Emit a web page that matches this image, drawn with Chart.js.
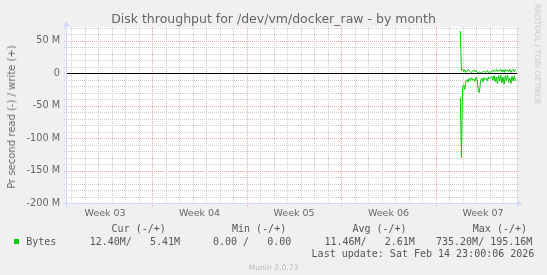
<!DOCTYPE html>
<html><head><meta charset="utf-8">
<script src="https://cdn.jsdelivr.net/npm/chart.js@4/dist/chart.umd.min.js"></script>
<style>
html,body{margin:0;padding:0;background:#F0F0F0;}
#wrap{position:relative;width:547px;height:275px;overflow:hidden;background:#F0F0F0;}
#canvasBg{position:absolute;left:67px;top:27px;width:450px;height:176px;background:#FFFFFF;z-index:0;}
canvas{position:absolute;left:0;top:0;z-index:1;}
.t{position:absolute;white-space:pre;line-height:1;color:#666;font-family:"DejaVu Sans",sans-serif;z-index:2;}
.m{position:absolute;white-space:pre;line-height:1;font-family:"DejaVu Sans Mono",monospace;font-size:10px;color:#555;z-index:2;}
.rot{position:absolute;width:0;height:0;z-index:2;}
.rot span{position:absolute;left:0;top:0;white-space:nowrap;line-height:1;font-family:"DejaVu Sans",sans-serif;}
</style></head><body>
<div id="wrap">
<div id="canvasBg"></div>
<canvas id="c" width="547" height="275"></canvas>
<div class="t" style="left:0;width:547px;text-align:center;top:13px;font-size:12.5px;">Disk throughput for /dev/vm/docker_raw - by month</div>
<div class="rot" style="left:12px;top:116.5px;"><span style="font-size:10px;color:#666;transform:translate(-50%,-50%) rotate(-90deg);">Pr second read (-) / write (+)</span></div>
<div class="rot" style="left:537px;top:53.5px;"><span style="font-size:7.8px;color:#C8C8C8;transform:translate(-50%,-50%) rotate(90deg);">RRDTOOL / TOBI OETIKER</span></div>
<div class="m" style="left:111.6px;top:223.5px;">Cur (-/+)</div>
<div class="m" style="left:232px;top:223.5px;">Min (-/+)</div>
<div class="m" style="left:352.4px;top:223.5px;">Avg (-/+)</div>
<div class="m" style="left:472.8px;top:223.5px;">Max (-/+)</div>
<div style="position:absolute;left:14px;top:238.5px;width:5px;height:5px;background:#00CC00;z-index:2;"></div>
<div class="m" style="left:26.2px;top:236.5px;">Bytes</div>
<div class="m" style="left:89.7px;top:236.5px;">12.40M/   5.41M</div>
<div class="m" style="left:213px;top:236.5px;">0.00 /   0.00</div>
<div class="m" style="left:324.5px;top:236.5px;">11.46M/   2.61M</div>
<div class="m" style="left:436px;top:236.5px;">735.20M/ 195.16M</div>
<div class="m" style="left:311.6px;top:249px;">Last update: Sat Feb 14 23:00:06 2026</div>
<div class="t" style="left:0;width:547px;text-align:center;top:264px;font-size:7.6px;color:#BBBBBB;">Munin 2.0.73</div>
</div>
<script>
// ---- data ----
const weekLabels = ['Week 03', 'Week 04', 'Week 05', 'Week 06', 'Week 07'];
const weekCenters = [2.5, 9.5, 16.5, 23.5, 30.5];      // days
const weekStarts = [6, 13, 20, 27];                     // days (Mondays)
const yTickLabelsM = [50, 0, -50, -100, -150, -200];    // labelled ticks (M)
const rangeStartDay = -0.32;
const rangeEndDay = 33.02;
const firstSampleDay = 28.82;
const sampleStepDays = 2 / 24;   // 2-hour consolidation
// write bytes/s (M) and read bytes/s (M), read plotted negative
const writeM = [65, 4, 6, 2, 5, 1, 3, 6, 4, 2, 1, 3, 5, 2, 4, 1, 0.5, 2, 1, 0.5,
                2, 3, 1, 2, 4, 1, 2, 0.5, 3, 5, 2, 4, 6, 2, 5, 3, 6, 2, 5, 1,
                6, 3, 5, 2, 6, 1, 4, 6, 2, 5.41];
const readM  = [38, 130, 22, 18, 25, 12, 10, 14, 8, 12, 7, 11, 9, 13, 6, 10, 28, 30, 12, 8,
                14, 7, 10, 8, 12, 6, 9, 7, 5, 11, 4, 13, 6, 16, 4, 12, 3, 15, 6, 17,
                4, 12, 3, 14, 8, 16, 5, 12, 4, 12.4];

const minorGrid = '#CDCDCD';
const majorGrid = '#ECA6A6';
const axisColor = '#CFD6F8';

const writePts = writeM.map((v, i) => ({x: firstSampleDay + i * sampleStepDays, y: v * 1e6}));
const readPts = readM.map((v, i) => ({x: firstSampleDay + i * sampleStepDays, y: -v * 1e6}));

const xTickVals = [];
for (let d = 0; d <= 33; d++) xTickVals.push(d);
weekCenters.forEach(v => xTickVals.push(v));
xTickVals.sort((a, b) => a - b);
const yTickVals = [];
for (let v = -200; v <= 70; v += 10) yTickVals.push(v * 1e6);

function xGridColor(v) {
  if (weekCenters.includes(v)) return null;
  return weekStarts.includes(v) ? majorGrid : minorGrid;
}
function yGridColor(v) {
  return (Math.round(v / 1e6) % 50 === 0) ? majorGrid : minorGrid;
}

function dotH(ctx, x1, x2, y) { for (let x = Math.round(x1); x <= x2; x += 2) ctx.fillRect(x, y, 1, 1); }
function dotV(ctx, x, y1, y2) { for (let y = Math.round(y1); y <= y2; y += 2) ctx.fillRect(x, y, 1, 1); }

const muninPlugin = {
  id: 'munin',
  beforeDatasetsDraw(chart) {
    const {ctx, chartArea: a, scales} = chart;
    ctx.save();
    [false, true].forEach(major => {
      scales.y.ticks.forEach(t => {
        const col = yGridColor(t.value);
        if ((col === majorGrid) !== major) return;
        const y = Math.round(scales.y.getPixelForValue(t.value));
        ctx.fillStyle = col;
        dotH(ctx, a.left - 3, a.right + 2, y);
      });
      scales.x.ticks.forEach(t => {
        const col = xGridColor(t.value);
        if (!col || (col === majorGrid) !== major) return;
        const x = Math.round(scales.x.getPixelForValue(t.value));
        ctx.fillStyle = col;
        dotV(ctx, x, a.top, a.bottom + (major ? 3 : 0));
      });
    });
    ctx.restore();
  },
  afterDatasetsDraw(chart) {
    const {ctx, chartArea: a, scales} = chart;
    const y0 = Math.round(scales.y.getPixelForValue(0)) + 0.5;
    ctx.save();
    ctx.setLineDash([]);
    ctx.strokeStyle = '#000000';
    ctx.lineWidth = 1;
    ctx.beginPath(); ctx.moveTo(a.left, y0); ctx.lineTo(a.right, y0); ctx.stroke();
    // axes
    ctx.strokeStyle = axisColor; ctx.fillStyle = axisColor;
    const ax = a.left - 0.5, ay = Math.round(a.bottom) + 0.5;
    ctx.beginPath(); ctx.moveTo(ax, ay + 4); ctx.lineTo(ax, a.top - 1); ctx.stroke();
    ctx.beginPath(); ctx.moveTo(ax - 3, a.top - 0.5); ctx.lineTo(ax + 3, a.top - 0.5); ctx.lineTo(ax, a.top - 5.5); ctx.closePath(); ctx.fill();
    ctx.beginPath(); ctx.moveTo(ax - 4, ay); ctx.lineTo(a.right + 1, ay); ctx.stroke();
    ctx.beginPath(); ctx.moveTo(a.right + 0.5, ay - 3); ctx.lineTo(a.right + 0.5, ay + 3); ctx.lineTo(a.right + 5, ay); ctx.closePath(); ctx.fill();
    ctx.restore();
  }
};

new Chart(document.getElementById('c'), {
  type: 'line',
  data: {
    datasets: [
      {label: 'write', data: writePts, borderColor: '#00CC00', borderWidth: 1, pointRadius: 0, tension: 0, fill: false},
      {label: 'read', data: readPts, borderColor: '#00CC00', borderWidth: 1, pointRadius: 0, tension: 0, fill: false}
    ]
  },
  options: {
    responsive: false,
    animation: false,
    devicePixelRatio: 1,
    layout: {padding: {left: 0, top: 27, right: 30, bottom: 0}},
    plugins: {legend: {display: false}, tooltip: {enabled: false}, title: {display: false}},
    scales: {
      x: {
        type: 'linear', min: rangeStartDay, max: rangeEndDay,
        afterBuildTicks: s => { s.ticks = xTickVals.map(v => ({value: v})); },
        afterFit: s => { s.height = 72; },
        border: {display: false},
        grid: {display: true, drawOnChartArea: false, drawTicks: true, tickLength: 3, color: 'rgba(0,0,0,0)', tickColor: 'rgba(0,0,0,0)'},
        ticks: {
          autoSkip: false, maxRotation: 0, padding: 1.5, color: '#666666',
          font: {family: 'DejaVu Sans', size: 9.5},
          callback: v => { const i = weekCenters.indexOf(v); return i >= 0 ? weekLabels[i] : ''; }
        }
      },
      y: {
        type: 'linear', min: -200e6, max: 71e6,
        afterBuildTicks: s => { s.ticks = yTickVals.map(v => ({value: v})); },
        afterFit: s => { s.width = 67; },
        border: {display: false},
        grid: {display: true, drawOnChartArea: false, drawTicks: true, tickLength: 2, color: 'rgba(0,0,0,0)', tickColor: 'rgba(0,0,0,0)'},
        ticks: {
          autoSkip: false, padding: 5, color: '#666666',
          font: {family: 'DejaVu Sans', size: 9.7},
          callback: v => { const m = Math.round(v / 1e6); if (!yTickLabelsM.includes(m)) return ''; return m === 0 ? '0' : m + ' M'; }
        }
      }
    }
  },
  plugins: [muninPlugin]
});
</script>
</body></html>
